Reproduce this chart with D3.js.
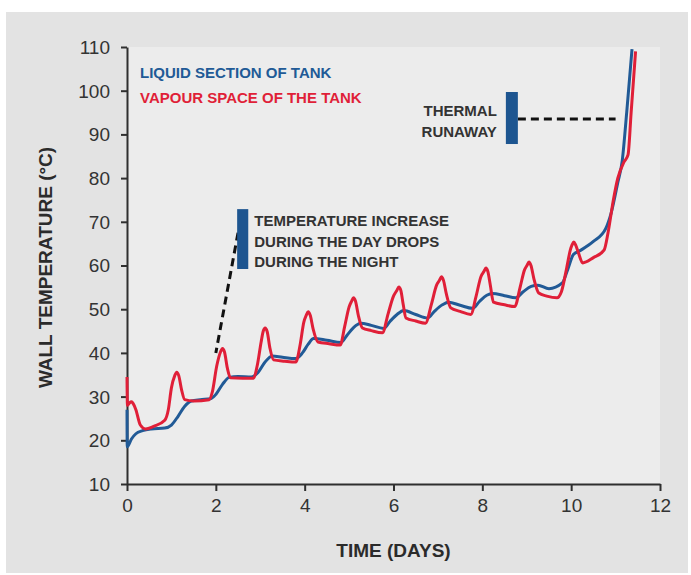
<!DOCTYPE html>
<html><head><meta charset="utf-8">
<script src="https://cdn.jsdelivr.net/npm/d3@7/dist/d3.min.js"></script>
<style>
html,body{margin:0;padding:0;background:#fff;}
svg{display:block;font-family:"Liberation Sans",Arial,Helvetica,sans-serif;}
</style></head>
<body>
<svg id="chart" width="691" height="575"></svg>
<script>
// ---- data ----
const xTicks = [0, 2, 4, 6, 8, 10, 12];
const yTicks = [10, 20, 30, 40, 50, 60, 70, 80, 90, 100, 110];
const seriesNames = ["LIQUID SECTION OF TANK", "VAPOUR SPACE OF THE TANK"];

const liquidDays = [0,0.005,0.1,0.2,0.35,0.55,0.85,1.0,1.15,1.3,1.45,1.65,1.88,2.0,2.15,2.3,2.5,2.8,2.95,3.1,3.27,3.5,3.8,3.95,4.08,4.2,4.5,4.82,4.95,5.1,5.26,5.5,5.78,5.92,6.08,6.23,6.5,6.77,6.92,7.1,7.24,7.5,7.78,7.93,8.1,8.23,8.5,8.75,8.92,9.1,9.25,9.5,9.8,9.92,10.05,10.2,10.5,10.78,10.9,11.05,11.15,11.25,11.37];
const liquidTemp = [27,18.5,20.3,21.5,22.2,22.6,22.8,23.5,25.5,27.8,29,29.3,29.5,30.5,32.8,34.4,34.6,34.5,35.5,37.8,39.3,39,38.7,40,42,43.3,42.9,42.4,44,45.8,46.8,46.3,45.6,47.2,48.8,49.7,48.8,48,49.5,51,51.6,50.9,50.2,51.7,53.2,53.6,53.1,52.6,54,55.2,55.5,54.7,56,59,62.5,63.4,65.5,68.5,72,79,84,95,109.5];

const vapourDays = [0,0.01,0.06,0.1,0.14,0.2,0.3,0.42,0.6,0.85,
  0.93,1.0,1.075,1.12,1.165,1.23,1.3,1.5,1.85,
  1.92,2.02,2.105,2.15,2.195,2.26,2.33,2.6,2.85,
  2.93,3.02,3.065,3.11,3.155,3.22,3.3,3.55,3.8,
  3.9,3.98,4.035,4.08,4.125,4.19,4.3,4.55,4.8,
  4.9,5.0,5.055,5.1,5.145,5.21,5.3,5.5,5.75,
  5.88,6.0,6.075,6.12,6.165,6.22,6.28,6.5,6.72,
  6.85,6.97,7.035,7.08,7.125,7.19,7.29,7.5,7.74,
  7.86,7.97,8.035,8.08,8.125,8.18,8.25,8.5,8.73,
  8.85,8.95,9.005,9.05,9.095,9.16,9.27,9.45,9.68,9.78,
  9.9,9.98,10.02,10.06,10.1,10.16,10.26,10.5,10.74,10.83,10.95,11.05,11.19,11.28,11.35,11.45];
const vapourTemp = [34.5,28,28.6,28.8,28.4,27,23.5,22.6,23.2,24.6,
  27,32,34.8,35.6,34.8,31.5,29.3,29,29.3,
  31,37,40.2,41,40.2,36.5,34.3,34.2,34.2,
  37,42.5,44.9,45.7,44.9,41,38.4,38.1,37.9,
  42,47,48.6,49.4,48.6,45.5,42.5,42.1,41.8,
  46,50.5,51.8,52.6,51.8,48.5,45.7,45.1,44.6,
  49,53,54.3,55.1,54.3,51,48,47.3,46.8,
  51,55.5,56.6,57.4,56.6,53.5,50.3,49.5,48.8,
  53,57.5,58.6,59.4,58.6,55.5,51.6,51,50.6,
  55,59,60,60.8,60,57,53.7,53,52.6,54,
  59.5,63.5,64.7,65.4,64.7,63,60.6,61.8,63.5,67.5,75,80,83.7,85.3,95,109];

// annotations (data coordinates)
const noteDayLines = ["TEMPERATURE INCREASE", "DURING THE DAY DROPS", "DURING THE NIGHT"];
const noteDayBar = {d0: 2.48, d1: 2.73, t0: 59.2, t1: 72.9};
const noteDayLeader = [[2.5, 67.5], [2.0, 40]];
const noteRunLines = ["THERMAL", "RUNAWAY"];
const noteRunBar = {d0: 8.53, d1: 8.8, t0: 87.8, t1: 99.7};
const noteRunLeader = [[8.8, 93.5], [11.0, 93.5]];

// ---- drawing ----
const BLUE = "#215a96", RED = "#e01f38", INK = "#2f2f2f";
const svg = d3.select("#chart");
const W = 691, H = 575;
const m = {left: 127, right: 660, top: 47, bottom: 484};

svg.append("rect").attr("x", 6).attr("y", 12).attr("width", W - 9).attr("height", H - 14).attr("fill", "#e3e3e3");
svg.append("rect").attr("x", m.left).attr("y", m.top).attr("width", m.right - m.left).attr("height", m.bottom - m.top).attr("fill", "#ececec");

const x = d3.scaleLinear().domain([0, 12]).range([m.left, m.right]);
const y = d3.scaleLinear().domain([10, 110]).range([m.bottom, m.top]);

// axes
const gx = svg.append("g").attr("transform", `translate(0,${m.bottom})`)
  .call(d3.axisBottom(x).tickValues(xTicks).tickSize(7).tickSizeOuter(0).tickPadding(8));
const gy = svg.append("g").attr("transform", `translate(${m.left},0)`)
  .call(d3.axisLeft(y).tickValues(yTicks).tickSize(6).tickSizeOuter(0).tickPadding(11));
[gx, gy].forEach(g => {
  g.select(".domain").attr("stroke", INK).attr("stroke-width", 2);
  g.selectAll(".tick line").attr("stroke", INK).attr("stroke-width", 2);
  g.selectAll(".tick text").attr("fill", "#333").style("font-size", "19px")
    .style("font-family", "'Liberation Sans',Arial,sans-serif");
});
gy.selectAll(".tick text").attr("dy", "0.34em");

// axis titles
svg.append("text").attr("x", (m.left + m.right) / 2).attr("y", 557).attr("text-anchor", "middle")
  .attr("fill", "#2b2b2b").style("font-size", "19px").style("font-weight", "bold").text("TIME (DAYS)");
svg.append("text").attr("transform", `translate(52,${(m.top + m.bottom) / 2 + 2}) rotate(-90)`)
  .attr("text-anchor", "middle").attr("fill", "#2b2b2b").style("font-size", "19px").style("font-weight", "bold")
  .text("WALL TEMPERATURE (°C)");

// lines
const line = d3.line().x(d => x(d[0])).y(d => y(d[1])).curve(d3.curveMonotoneX);
const liquid = liquidDays.map((d, i) => [d, liquidTemp[i]]);
const vapour = vapourDays.map((d, i) => [d, vapourTemp[i]]);
svg.append("path").datum(liquid).attr("d", line).attr("fill", "none").attr("stroke", BLUE)
  .attr("stroke-width", 3).attr("stroke-linejoin", "round");
svg.append("path").datum(vapour).attr("d", line).attr("fill", "none").attr("stroke", RED)
  .attr("stroke-width", 3).attr("stroke-linejoin", "round");

// legend
[BLUE, RED].forEach((c, i) => {
  svg.append("text").attr("x", 140).attr("y", 78 + i * 25).attr("fill", c)
    .style("font-size", "15px").style("font-weight", "bold").text(seriesNames[i]);
});

// annotation: day/night
svg.append("line").attr("x1", x(noteDayLeader[0][0])).attr("y1", y(noteDayLeader[0][1]))
  .attr("x2", x(noteDayLeader[1][0])).attr("y2", y(noteDayLeader[1][1]))
  .attr("stroke", "#111").attr("stroke-width", 3).attr("stroke-dasharray", "8,5");
svg.append("rect").attr("x", x(noteDayBar.d0)).attr("y", y(noteDayBar.t1))
  .attr("width", x(noteDayBar.d1) - x(noteDayBar.d0)).attr("height", y(noteDayBar.t0) - y(noteDayBar.t1))
  .attr("fill", "#1d5590");
noteDayLines.forEach((t, i) => {
  svg.append("text").attr("x", x(noteDayBar.d1) + 6).attr("y", 226 + i * 20.5).attr("fill", "#333")
    .style("font-size", "15px").style("font-weight", "bold").text(t);
});

// annotation: thermal runaway
svg.append("line").attr("x1", x(noteRunLeader[0][0])).attr("y1", y(noteRunLeader[0][1]))
  .attr("x2", x(noteRunLeader[1][0])).attr("y2", y(noteRunLeader[1][1]))
  .attr("stroke", "#111").attr("stroke-width", 3).attr("stroke-dasharray", "8,5");
svg.append("rect").attr("x", x(noteRunBar.d0)).attr("y", y(noteRunBar.t1))
  .attr("width", x(noteRunBar.d1) - x(noteRunBar.d0)).attr("height", y(noteRunBar.t0) - y(noteRunBar.t1))
  .attr("fill", "#1d5590");
noteRunLines.forEach((t, i) => {
  svg.append("text").attr("x", x(noteRunBar.d0) - 9).attr("y", 116 + i * 21).attr("text-anchor", "end")
    .attr("fill", "#333").style("font-size", "15px").style("font-weight", "bold").text(t);
});
</script>
</body></html>
